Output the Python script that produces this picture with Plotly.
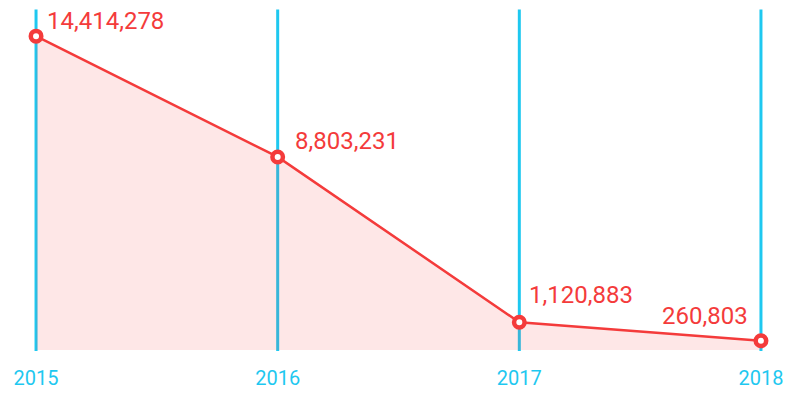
import plotly.graph_objects as go

years = [2015, 2016, 2017, 2018]
values = [14414278, 8803231, 1120883, 260803]
tick_labels = ["2015", "2016", "2017", "2018"]

# label placement offsets (px): (xshift, yshift, xanchor)
label_offsets = [(9, 15, "left"), (15, 16, "left"), (8, 27, "left"), (-11, 25, "right")]

Y_MIN = -167000
Y_MAX = 15630000
X_PAD = 0.025  # small padding (in years) so edge lines are not clipped

RED = "#f43b3b"
CYAN = "#1ec8f0"

fig = go.Figure()

# vertical category lines
for x in years:
    fig.add_shape(
        type="line", xref="x", yref="paper", x0=x, x1=x, y0=-0.003, y1=1.0015,
        line=dict(color=CYAN, width=3), layer="between",
    )

# baseline for the fill (bottom of the plot area)
fig.add_trace(go.Scatter(
    x=years, y=[Y_MIN] * len(years), mode="lines",
    line=dict(width=0, color="rgba(0,0,0,0)"), hoverinfo="skip", showlegend=False,
))

fig.add_trace(go.Scatter(
    x=years, y=values, mode="lines+markers",
    fill="tonexty", fillcolor="rgba(244,59,59,0.12)",
    line=dict(color=RED, width=2.5),
    marker=dict(size=10.5, color="white", line=dict(color=RED, width=4.5)),
    cliponaxis=False, showlegend=False,
))

for (x, v), (xs, ys, xa) in zip(zip(years, values), label_offsets):
    fig.add_annotation(
        x=x, y=v, text=f"{v:,}", showarrow=False,
        xanchor=xa, yanchor="middle", xshift=xs, yshift=ys,
        font=dict(family="Roboto", size=24, color=RED),
    )

fig.update_xaxes(
    range=[years[0] - X_PAD, years[-1] + X_PAD],
    tickvals=years, ticktext=tick_labels,
    showgrid=False, zeroline=False, showline=False,
    ticks="", ticklabelstandoff=14, automargin=False,
    tickfont=dict(family="Roboto", size=20, color=CYAN),
)
fig.update_yaxes(
    range=[Y_MIN, Y_MAX], visible=False, showgrid=False, zeroline=False,
    automargin=False,
)

fig.update_layout(
    width=800, height=398,
    margin=dict(l=30, r=33, t=10, b=48, autoexpand=False),
    paper_bgcolor="white", plot_bgcolor="white",
    font=dict(family="Roboto"),
)

fig.write_html("out.html")
